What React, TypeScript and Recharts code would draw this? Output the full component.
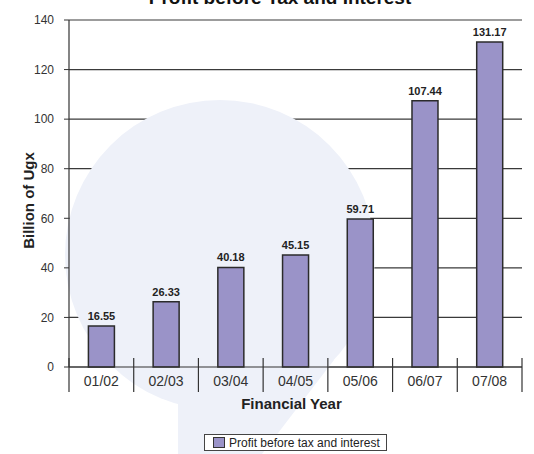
import React from 'react';
import { BarChart, Bar, XAxis, YAxis, CartesianGrid, Legend, LabelList, Customized } from 'recharts';

const financialYears = ['01/02', '02/03', '03/04', '04/05', '05/06', '06/07', '07/08'];
const profitValues = [16.55, 26.33, 40.18, 45.15, 59.71, 107.44, 131.17];
const yTicks = [0, 20, 40, 60, 80, 100, 120, 140];

const data = financialYears.map((year, i) => ({ year, profit: profitValues[i] }));

const CHART_W = 534;
const CHART_H = 454;
const Y_AXIS_W = 69;
const RIGHT = 12;
const STEP = (CHART_W - Y_AXIS_W - RIGHT) / financialYears.length;

const BAR_FILL = '#9a93c8';
const INK = '#333333';
const FONT = '"Liberation Sans", Arial, Helvetica, sans-serif';

// category boundary lines + label, like the original's tick marks
const YearTick = (props: any) => {
  const { x, y, payload } = props;
  const idx = payload.index ?? props.index;
  const half = STEP / 2;
  return (
    <g>
      <line x1={x - half} x2={x - half} y1={y - 9} y2={y + 25} stroke={INK} strokeWidth={1.2} />
      {idx === financialYears.length - 1 && (
        <line x1={x + half} x2={x + half} y1={y - 9} y2={y + 25} stroke={INK} strokeWidth={1.2} />
      )}
      <text x={x} y={y + 19} textAnchor="middle" fontSize={14} fill={INK}>
        {payload.value}
      </text>
    </g>
  );
};

const Watermark = () => (
  <g>
    <circle cx={220} cy={255} r={155} fill="#eef1f9" />
    <polygon points="178,380 334,360 262,454 178,454" fill="#eef1f9" />
  </g>
);

const Title = () => (
  <text x={280} y={4} textAnchor="middle" fontSize={19} fontWeight="bold" fill="#111">
    Profit before Tax and Interest
  </text>
);

const LegendBox = (props: any) => {
  const item = props.payload && props.payload[0];
  return (
    <div
      style={{
        display: 'flex',
        alignItems: 'center',
        boxSizing: 'border-box',
        height: 17,
        border: '1px solid #444',
        background: '#fff',
        paddingLeft: 8,
        fontFamily: FONT,
        fontSize: 12,
        color: '#222',
        whiteSpace: 'nowrap',
      }}
    >
      <span
        style={{
          display: 'inline-block',
          boxSizing: 'border-box',
          width: 12,
          height: 11,
          background: item ? item.color : BAR_FILL,
          border: '1px solid #333',
          marginRight: 4,
        }}
      />
      <span>{item ? item.value : ''}</span>
    </div>
  );
};

const App = () => {
  return (
    <div style={{ position: 'absolute', left: 0, top: 0, fontFamily: FONT }}>
      <BarChart
        width={CHART_W}
        height={CHART_H}
        data={data}
        margin={{ top: 20, right: RIGHT, bottom: 37, left: 0 }}
        barCategoryGap="30%"
      >
        <Customized component={Watermark} />
        <CartesianGrid vertical={false} stroke="#3a3a3a" strokeWidth={1.2} />
        <XAxis
          dataKey="year"
          height={50}
          axisLine={{ stroke: INK, strokeWidth: 1.2 }}
          tickLine={false}
          tickSize={0}
          tickMargin={0}
          interval={0}
          tick={<YearTick />}
          label={{
            value: 'Financial Year',
            position: 'insideBottom',
            offset: 8,
            dx: -4,
            fill: '#222',
            fontSize: 15,
            fontWeight: 'bold',
          }}
        />
        <YAxis
          width={Y_AXIS_W}
          domain={[0, 140]}
          ticks={yTicks}
          interval={0}
          axisLine={{ stroke: INK, strokeWidth: 1.2 }}
          tickLine={{ stroke: INK }}
          tickSize={5}
          tickMargin={10}
          tick={{ fontSize: 12, fill: INK }}
          label={{
            content: (p: any) => {
              const vb = p.viewBox || { x: 0, y: 20, height: 347 };
              const cx = vb.x + 28;
              const cy = vb.y + vb.height / 2 + 7;
              return (
                <text
                  x={cx}
                  y={cy}
                  transform={`rotate(-90 ${cx} ${cy})`}
                  textAnchor="middle"
                  dominantBaseline="central"
                  fontSize={15}
                  fontWeight="bold"
                  fill="#222"
                >
                  Billion of Ugx
                </text>
              );
            },
          }}
        />
        <Bar
          dataKey="profit"
          name="Profit before tax and interest"
          fill={BAR_FILL}
          stroke="#2b2b2b"
          strokeWidth={1.5}
          isAnimationActive={false}
        >
          <LabelList
            dataKey="profit"
            position="top"
            offset={6}
            formatter={(v: any) => Number(v).toFixed(2)}
            style={{ fontSize: 11, fontWeight: 'bold', fill: '#222' }}
          />
        </Bar>
        <Legend
          verticalAlign="middle"
          align="center"
          content={<LegendBox />}
          wrapperStyle={{ top: 434, left: 204, width: 183, height: 17 }}
        />
        <Customized component={Title} />
      </BarChart>
    </div>
  );
};

export default App;
